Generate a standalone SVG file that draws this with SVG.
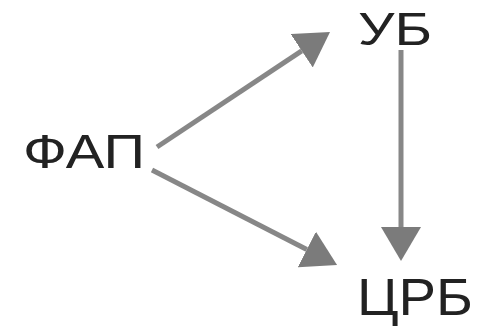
<svg xmlns="http://www.w3.org/2000/svg" width="490" height="330" viewBox="0 0 490 330">
<style>
.lbl{font-family:"Liberation Sans",Arial,sans-serif;fill:#222}
.conn{stroke:#878787;stroke-width:5;fill:none}
</style>
<defs>
<marker id="head" viewBox="0 -20 34 40" markerWidth="34" markerHeight="40" refX="0" refY="0" orient="auto" markerUnits="userSpaceOnUse">
<path d="M0,-20 L34,0 L0,20 z" fill="#7b7b7b"/>
</marker>
</defs>
<rect width="490" height="330" fill="#fff"/>
<g id="connectors">
<line class="conn" x1="157" y1="147" x2="301.7" y2="50.8" marker-end="url(#head)"/>
<line class="conn" x1="152" y1="170" x2="306.8" y2="249.5" marker-end="url(#head)"/>
<line class="conn" x1="401" y1="50" x2="401" y2="227" marker-end="url(#head)"/>
</g>
<g id="fap"><text class="lbl" x="23" y="168" font-size="49" textLength="122" lengthAdjust="spacingAndGlyphs">ФАП</text></g>
<g id="ub"><text class="lbl" x="358" y="45" font-size="46" textLength="74" lengthAdjust="spacingAndGlyphs">УБ</text></g>
<g id="crb"><text class="lbl" x="357" y="315" font-size="51" textLength="116" lengthAdjust="spacingAndGlyphs">ЦРБ</text></g>
</svg>
